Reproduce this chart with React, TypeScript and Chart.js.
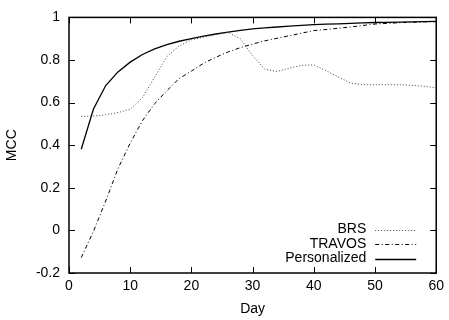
import React, { useEffect, useRef } from "react";
import { Chart, registerables } from "chart.js";

Chart.register(...registerables);

const days = [2, 4, 6, 8, 10, 12, 14, 16, 18, 20, 22, 24, 26, 28, 30, 32, 34, 36, 38, 40, 42, 44, 46, 48, 50, 52, 54, 56, 58, 60];
const brs = [0.535, 0.537, 0.543, 0.553, 0.569, 0.623, 0.72, 0.816, 0.866, 0.895, 0.907, 0.92, 0.93, 0.9, 0.82, 0.757, 0.746, 0.762, 0.775, 0.777, 0.75, 0.72, 0.692, 0.684, 0.684, 0.684, 0.684, 0.681, 0.677, 0.669];
const travos = [-0.128, -0.004, 0.138, 0.29, 0.41, 0.515, 0.595, 0.656, 0.713, 0.748, 0.785, 0.813, 0.838, 0.858, 0.875, 0.89, 0.902, 0.914, 0.926, 0.938, 0.943, 0.949, 0.955, 0.962, 0.969, 0.972, 0.975, 0.977, 0.979, 0.98];
const personalized = [0.381, 0.57, 0.68, 0.744, 0.79, 0.826, 0.852, 0.872, 0.888, 0.9, 0.912, 0.922, 0.931, 0.939, 0.946, 0.951, 0.955, 0.959, 0.963, 0.966, 0.968, 0.97, 0.972, 0.974, 0.976, 0.977, 0.978, 0.979, 0.98, 0.981];
const seriesNames = ["BRS", "TRAVOS", "Personalized"];
const xTitle = "Day";
const yTitle = "MCC";

const FONT = '"Liberation Sans", Arial, Helvetica, sans-serif';
const dashes = [[1, 2], [4, 2.5, 1, 2.5], []];

const framePlugin = {
  id: "gnuFrame",
  afterDatasetsDraw(chart: any) {
    const { ctx, chartArea, scales } = chart;
    const { left, right, top, bottom } = chartArea;
    const x = scales.x;
    const y = scales.y;
    ctx.save();
    ctx.strokeStyle = "#000";
    ctx.lineWidth = 1.5;
    ctx.setLineDash([]);
    ctx.strokeRect(left, top, right - left, bottom - top);
    ctx.lineWidth = 1;
    const tl = 6;
    ctx.beginPath();
    x.ticks.forEach((t: any) => {
      const px = Math.round(x.getPixelForValue(t.value)) + 0.5;
      ctx.moveTo(px, bottom);
      ctx.lineTo(px, bottom - tl);
      ctx.moveTo(px, top);
      ctx.lineTo(px, top + tl);
    });
    y.ticks.forEach((t: any) => {
      const py = Math.round(y.getPixelForValue(t.value)) + 0.5;
      ctx.moveTo(left, py);
      ctx.lineTo(left + tl, py);
      ctx.moveTo(right, py);
      ctx.lineTo(right - tl, py);
    });
    ctx.stroke();

    // legend (gnuplot style: label right-aligned, sample to the right)
    ctx.font = `14px ${FONT}`;
    ctx.fillStyle = "#000";
    ctx.textAlign = "right";
    ctx.textBaseline = "middle";
    const rowsY = [bottom - 43.5, bottom - 29, bottom - 14.5];
    chart.data.datasets.forEach((ds: any, i: number) => {
      const ry = rowsY[i];
      ctx.fillText(ds.label, right - 70, ry);
      ctx.beginPath();
      ctx.setLineDash(ds.borderDash || []);
      ctx.lineWidth = ds.borderWidth;
      ctx.strokeStyle = ds.borderColor;
      ctx.moveTo(right - 61, Math.round(ry) + 0.5);
      ctx.lineTo(right - 20, Math.round(ry) + 0.5);
      ctx.stroke();
    });
    ctx.restore();
  },
};

export default function App() {
  const ref = useRef<HTMLCanvasElement>(null);
  useEffect(() => {
    if (!ref.current) return;
    const series = [brs, travos, personalized];
    const chart = new Chart(ref.current, {
      type: "line",
      data: {
        datasets: series.map((s, i) => ({
          label: seriesNames[i],
          data: days.map((d, j) => ({ x: d, y: s[j] })),
          borderColor: i === 0 ? "#444" : "#000",
          borderWidth: i === 2 ? 1.3 : 1,
          borderDash: dashes[i],
          pointRadius: 0,
          fill: false,
          tension: 0,
        })),
      },
      options: {
        animation: false,
        responsive: false,
        devicePixelRatio: 1,
        layout: { padding: { left: 0, top: 13, right: 10, bottom: 0 } },
        plugins: { legend: { display: false }, tooltip: { enabled: false } },
        scales: {
          x: {
            type: "linear",
            min: 0,
            max: 60,
            grid: { display: false, drawTicks: false },
            border: { display: false },
            ticks: { stepSize: 10, padding: 5, color: "#000", font: { family: FONT, size: 14 }, maxRotation: 0 },
            title: { display: true, text: xTitle, color: "#000", font: { family: FONT, size: 14 }, padding: { top: 0, bottom: 2 } },
            afterFit: (s: any) => { s.height = 47; },
          },
          y: {
            type: "linear",
            min: -0.2,
            max: 1,
            grid: { display: false, drawTicks: false },
            border: { display: false },
            ticks: {
              stepSize: 0.2,
              padding: 9,
              color: "#000",
              font: { family: FONT, size: 14 },
              callback: (v: any) => String(Number(Number(v).toFixed(1))),
            },
            title: { display: true, text: yTitle, color: "#000", font: { family: FONT, size: 14 }, padding: { top: 4, bottom: 0 } },
            afterFit: (s: any) => { s.width = 69; },
          },
        },
      },
      plugins: [framePlugin],
    });
    return () => chart.destroy();
  }, []);
  return (
    <div style={{ position: "fixed", left: 0, top: 0, width: 449, height: 320, background: "#fff" }}>
      <canvas ref={ref} width={449} height={320} style={{ display: "block" }} />
    </div>
  );
}
